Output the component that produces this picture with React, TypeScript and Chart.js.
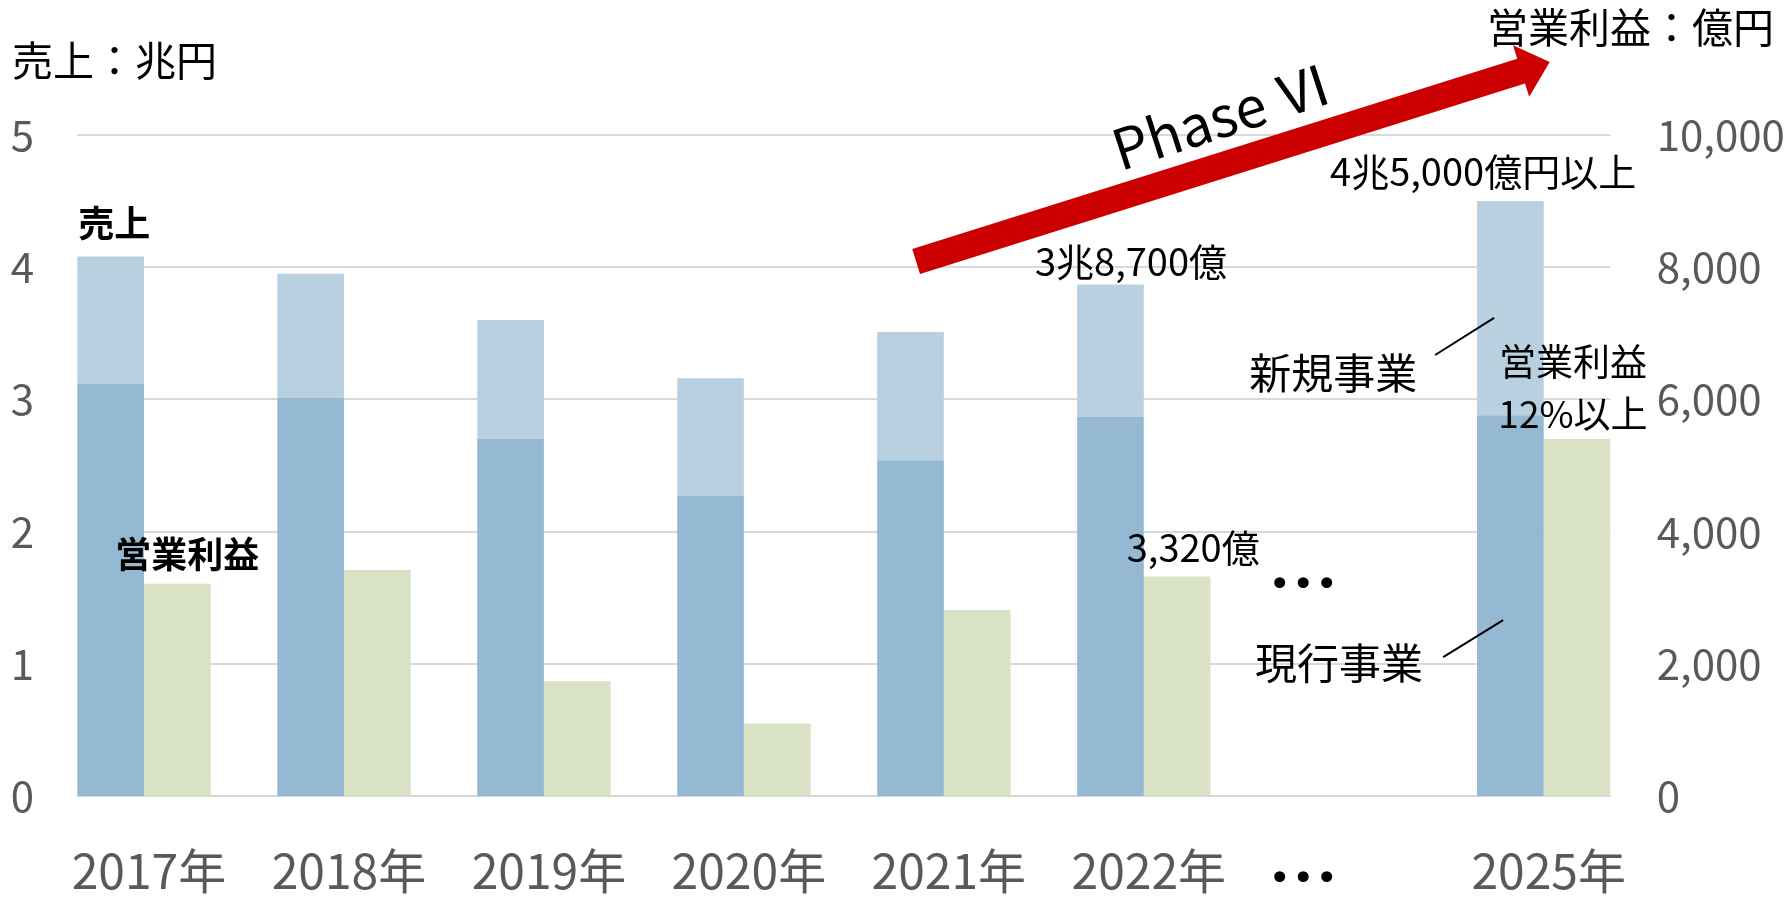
import React, { useEffect, useRef } from 'react';
import { Chart, registerables } from 'chart.js';

Chart.register(...registerables);

// ---- data ----
const categories = ['2017年', '2018年', '2019年', '2020年', '2021年', '2022年', '', '2025年'];
const currentBusiness = [3.12, 3.01, 2.70, 2.27, 2.54, 2.87, null, 2.88]; // 兆円
const newBusiness = [0.96, 0.94, 0.90, 0.89, 0.97, 1.00, null, 1.62]; // 兆円
const operatingProfit = [3210, 3420, 1735, 1095, 2815, 3320, null, 5400]; // 億円
const salesAxis = { min: 0, max: 5, step: 1 };
const profitAxis = { min: 0, max: 10000, step: 2000 };

const FONT = '"Noto Sans CJK JP", "Noto Sans", sans-serif';
const CAT_PCT = 2 / 3;

type Note = { text: string; i: number; v: number; size: number; bold?: boolean };
const notes: Note[] = [
  { text: '売上', i: -0.149, v: 4.33, size: 36, bold: true },
  { text: '営業利益', i: 0.217, v: 1.83, size: 36, bold: true },
  { text: '3兆8,700億', i: 4.936, v: 4.04, size: 38 },
  { text: '3,320億', i: 5.247, v: 1.876, size: 38 },
  { text: '4兆5,000億円以上', i: 6.697, v: 4.72, size: 38 },
  { text: '新規事業', i: 5.947, v: 3.2, size: 42 },
  { text: '現行事業', i: 5.976, v: 1.006, size: 42 },
  { text: '営業利益', i: 7.146, v: 3.283, size: 37 },
  { text: '12%以上', i: 7.146, v: 2.89, size: 37 },
];

const overlay = {
  id: 'overlay',
  beforeDatasetsDraw(chart: any) {
    const { ctx, scales } = chart;
    const x = scales.x, y = scales.y;
    const step = x.getPixelForValue(1) - x.getPixelForValue(0);
    const half = (step * CAT_PCT) / 2;
    const left = x.getPixelForValue(0) - half;
    const right = x.getPixelForValue(categories.length - 1) + half;
    ctx.save();
    ctx.strokeStyle = '#d9d9d9';
    ctx.lineWidth = 2;
    for (const t of y.ticks) {
      const py = Math.round(y.getPixelForValue(t.value));
      ctx.beginPath();
      ctx.moveTo(left, py);
      ctx.lineTo(right, py);
      ctx.stroke();
    }
    ctx.restore();
  },
  afterDraw(chart: any) {
    const { ctx, scales, chartArea } = chart;
    const x = scales.x, y = scales.y;
    const x0 = x.getPixelForValue(0);
    const step = x.getPixelForValue(1) - x0;
    const px = (i: number) => x0 + i * step;
    const py = (v: number) => y.getPixelForValue(v);
    ctx.save();
    ctx.textAlign = 'center';
    ctx.textBaseline = 'middle';
    ctx.fillStyle = '#000';
    for (const n of notes) {
      ctx.font = `${n.bold ? 'bold ' : ''}${n.size}px ${FONT}`;
      ctx.fillText(n.text, px(n.i), py(n.v));
    }
    // axis unit titles
    ctx.textAlign = 'left';
    ctx.font = `41px ${FONT}`;
    ctx.fillText('売上：兆円', 12, 60);
    ctx.fillText('営業利益：億円', 1487, 27);

    // leader lines
    ctx.strokeStyle = '#000';
    ctx.lineWidth = 2;
    const lines = [
      [6.457, 3.336, 6.752, 3.616],
      [6.497, 1.051, 6.797, 1.331],
    ];
    for (const [a, b, c, d] of lines) {
      ctx.beginPath();
      ctx.moveTo(px(a), py(b));
      ctx.lineTo(px(c), py(d));
      ctx.stroke();
    }

    // ellipsis dots
    ctx.textAlign = 'center';
    ctx.font = `38px "DejaVu Sans", sans-serif`;
    for (const k of [0, 1, 2]) {
      const cx = px(5.797 + (k - 1) * 0.1175);
      ctx.fillText('•', cx, py(1.58));
      ctx.fillText('•', cx, chartArea.bottom + 85);
    }

    // red arrow
    const T = { x: px(3.8615), y: py(4.043) };
    const P = { x: px(7.03), y: py(5.552) };
    const dx = P.x - T.x, dy = P.y - T.y;
    const len = Math.hypot(dx, dy);
    const ux = dx / len, uy = dy / len;
    const nx = -uy, ny = ux;
    const w = 13, hw = 27, hl = 30;
    const H = { x: P.x - ux * hl, y: P.y - uy * hl };
    ctx.fillStyle = '#cc0000';
    ctx.beginPath();
    ctx.moveTo(T.x + nx * w, T.y + ny * w);
    ctx.lineTo(H.x + nx * w, H.y + ny * w);
    ctx.lineTo(H.x + nx * hw, H.y + ny * hw);
    ctx.lineTo(P.x, P.y);
    ctx.lineTo(H.x - nx * hw, H.y - ny * hw);
    ctx.lineTo(H.x - nx * w, H.y - ny * w);
    ctx.lineTo(T.x - nx * w, T.y - ny * w);
    ctx.closePath();
    ctx.fill();

    // Phase VI
    ctx.save();
    ctx.translate(px(5.39), py(5.144));
    ctx.rotate((-18 * Math.PI) / 180);
    ctx.fillStyle = '#000';
    ctx.font = `56px ${FONT}`;
    ctx.textAlign = 'center';
    ctx.textBaseline = 'middle';
    ctx.fillText('Phase Ⅵ', 0, 0);
    ctx.restore();

    ctx.restore();
  },
};

export default function App() {
  const ref = useRef<HTMLCanvasElement | null>(null);
  useEffect(() => {
    document.body.style.margin = '0';
    const canvas = ref.current!;
    const chart = new Chart(canvas, {
      type: 'bar',
      data: {
        labels: categories,
        datasets: [
          {
            label: '現行事業',
            data: currentBusiness,
            backgroundColor: '#95b9d2',
            stack: 'sales',
            yAxisID: 'y',
            categoryPercentage: CAT_PCT,
            barPercentage: 1,
          },
          {
            label: '新規事業',
            data: newBusiness,
            backgroundColor: '#b9d0e0',
            stack: 'sales',
            yAxisID: 'y',
            categoryPercentage: CAT_PCT,
            barPercentage: 1,
          },
          {
            label: '営業利益',
            data: operatingProfit,
            backgroundColor: '#d9e2c4',
            stack: 'profit',
            yAxisID: 'y1',
            categoryPercentage: CAT_PCT,
            barPercentage: 1,
          },
        ],
      } as any,
      options: {
        animation: false,
        responsive: false,
        layout: { padding: { top: 135, bottom: 0, left: 0, right: 0 } },
        plugins: { legend: { display: false }, tooltip: { enabled: false } },
        scales: {
          x: {
            stacked: true,
            grid: { display: false, drawTicks: false },
            border: { display: false },
            ticks: { color: '#595959', font: { family: FONT, size: 48 }, padding: 46, labelOffset: 5, maxRotation: 0, autoSkip: false },
            afterFit: (s: any) => { s.height = 105; },
          },
          y: {
            stacked: true,
            position: 'left',
            min: salesAxis.min,
            max: salesAxis.max,
            grid: { display: false, drawTicks: false },
            border: { display: false },
            ticks: { stepSize: salesAxis.step, color: '#595959', font: { family: FONT, size: 42 }, padding: 10 },
            afterFit: (s: any) => { s.width = 44; },
          },
          y1: {
            stacked: true,
            position: 'right',
            min: profitAxis.min,
            max: profitAxis.max,
            grid: { display: false, drawTicks: false },
            border: { display: false },
            ticks: { stepSize: profitAxis.step, color: '#595959', font: { family: FONT, size: 42 }, padding: 13 },
            afterFit: (s: any) => { s.width = 143.3; },
          },
        },
      } as any,
      plugins: [overlay],
    });
    return () => chart.destroy();
  }, []);
  return <canvas ref={ref} width={1787} height={901} style={{ display: 'block' }} />;
}
